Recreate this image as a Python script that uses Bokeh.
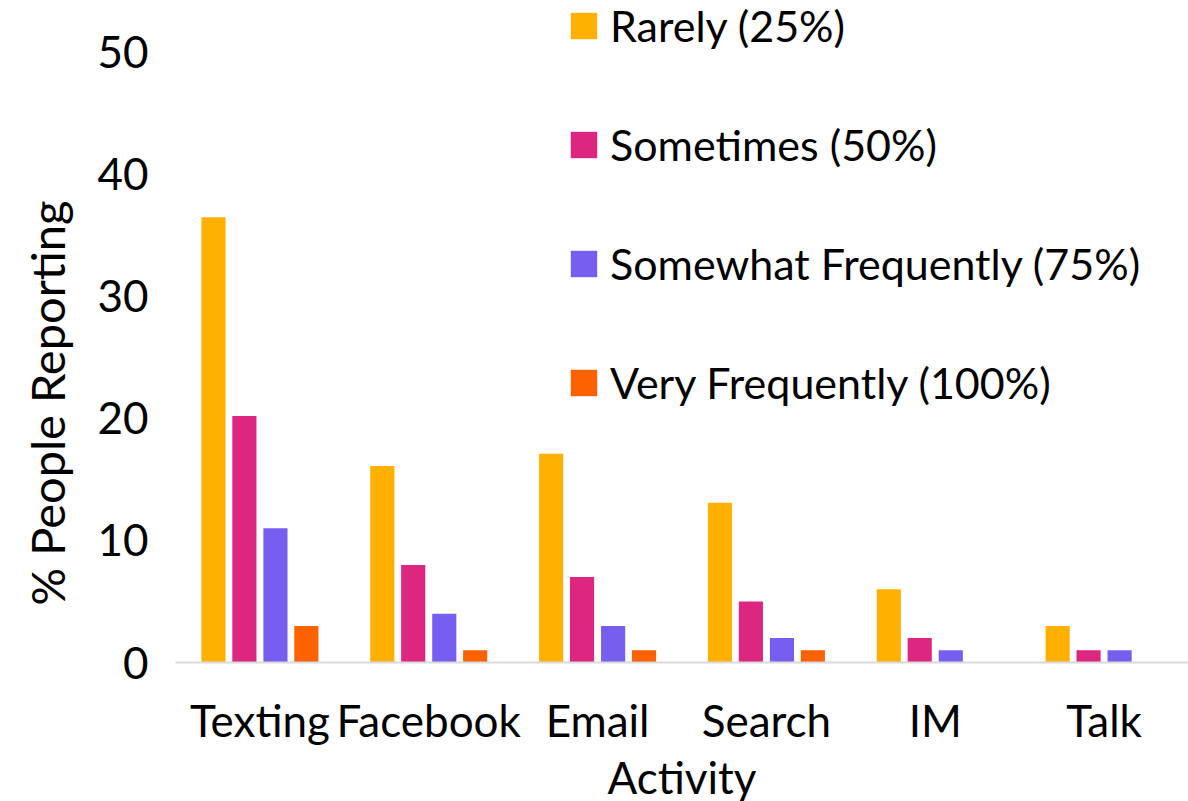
from bokeh.plotting import figure
from bokeh.models import (ColumnDataSource, FactorRange, Range1d, FixedTicker,
                          Legend, LegendItem, Title)
from bokeh.transform import dodge
from bokeh.embed import file_html
from bokeh.resources import INLINE

# ---- data ----
activities = ["Texting", "Facebook", "Email", "Search", "IM", "Talk"]
rarely = [36.5, 16.1, 17.1, 13.1, 6, 3]
sometimes = [20.2, 8, 7, 5, 2, 1]
somewhat_frequently = [11, 4, 3, 2, 1, 1]
very_frequently = [3, 1, 1, 1, 0, 0]
series_names = ["Rarely (25%)", "Sometimes (50%)",
                "Somewhat Frequently (75%)", "Very Frequently (100%)"]
y_ticks = [0, 10, 20, 30, 40, 50]
x_title = "Activity"
y_title = "% People Reporting"

# ---- styles ----
colors = ["#FFB000", "#DC267F", "#785EF0", "#FE6100"]
offsets = [-0.275, -0.092, 0.092, 0.275]
FONT = "Lato"

source = ColumnDataSource(dict(
    cat=activities,
    s0=rarely, s1=sometimes, s2=somewhat_frequently, s3=very_frequently,
))

p = figure(width=1188, height=812,
           x_range=FactorRange(*activities),
           y_range=Range1d(0, 54.26),
           output_backend="svg", toolbar_location=None,
           min_border_left=175, min_border_right=0,
           min_border_top=0, min_border_bottom=150)
p.outline_line_color = None
p.xgrid.grid_line_color = None
p.ygrid.grid_line_color = None

items = []
for i, name in enumerate(series_names):
    r = p.vbar(x=dodge("cat", offsets[i], range=p.x_range), top="s%d" % i,
               width=0.143, source=source, fill_color=colors[i],
               line_color=None)
    items.append(LegendItem(label=name, renderers=[r]))

# y axis
p.yaxis.ticker = FixedTicker(ticks=y_ticks)
p.yaxis.axis_line_color = None
p.yaxis.major_tick_line_color = None
p.yaxis.minor_tick_line_color = None
p.yaxis.major_label_standoff = 21
p.yaxis.major_label_text_font = FONT
p.yaxis.major_label_text_font_size = "44px"
p.yaxis.major_label_text_color = "black"

# x axis
p.xaxis.axis_line_color = "#d9d9d9"
p.xaxis.axis_line_width = 2
p.xaxis.major_tick_line_color = None
p.xaxis.minor_tick_line_color = None
p.xaxis.major_label_standoff = 25
p.xaxis.major_label_text_font = FONT
p.xaxis.major_label_text_font_size = "44px"
p.xaxis.major_label_text_color = "black"
p.xaxis.axis_label = x_title
p.xaxis.axis_label_standoff = 2
p.xaxis.axis_label_text_font = FONT
p.xaxis.axis_label_text_font_size = "44px"
p.xaxis.axis_label_text_font_style = "normal"
p.xaxis.axis_label_text_color = "black"

ytitle = Title(text=y_title, align="left", offset=57, standoff=35,
               vertical_align="top",
               text_font=FONT, text_font_size="47px",
               text_font_style="normal", text_color="black")
p.add_layout(ytitle, "left")

legend = Legend(items=items, location=(392, 254), padding=0, margin=0,
                border_line_color=None, background_fill_alpha=0,
                glyph_width=33, glyph_height=33, label_height=50,
                label_standoff=10, spacing=68,
                label_text_font=FONT, label_text_font_size="43px",
                label_text_color="black")
p.add_layout(legend)

open("out.html", "w").write(file_html(p, INLINE))
